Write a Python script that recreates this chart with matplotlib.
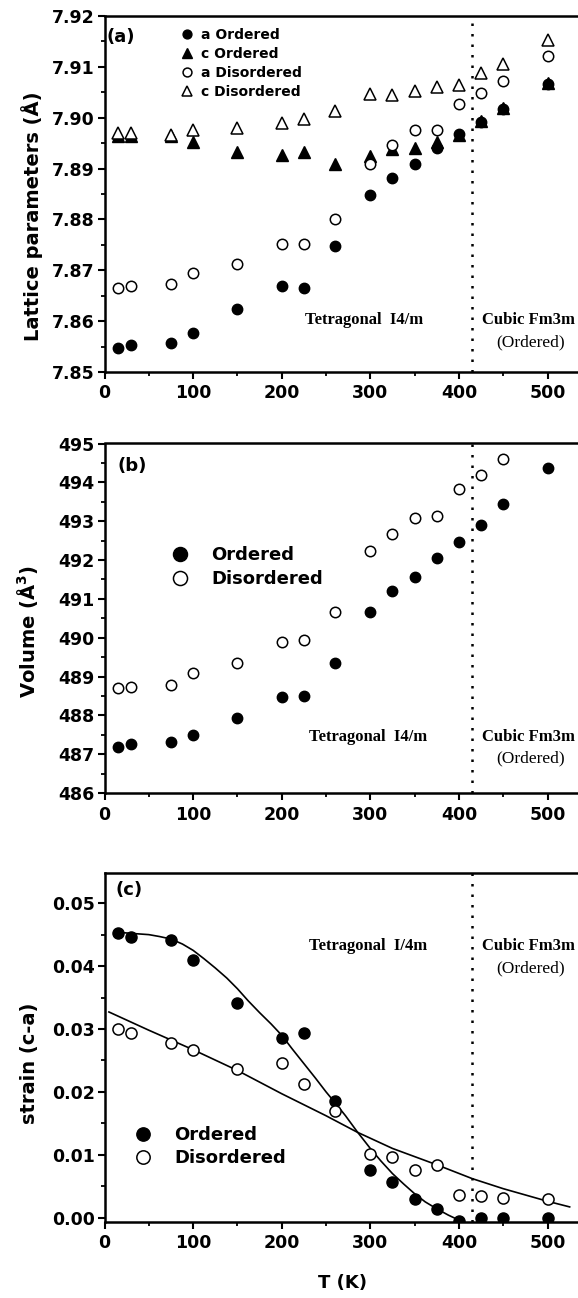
import matplotlib
matplotlib.use('Agg')
import matplotlib.pyplot as plt
from matplotlib.ticker import MultipleLocator

# temperatures (K)
T = [15, 30, 75, 100, 150, 200, 225, 260, 300, 325, 350, 375, 400, 425, 450, 500]

# (a) lattice parameters (A)
a_ord = [7.8547, 7.8553, 7.8558, 7.8577, 7.8623, 7.8669, 7.8665, 7.8747, 7.8848, 7.8881,
         7.8909, 7.8941, 7.8967, 7.8992, 7.9018, 7.9067]
c_ord = [7.8965, 7.8965, 7.8964, 7.8952, 7.8933, 7.8926, 7.8933, 7.8909, 7.8925, 7.8938,
         7.8941, 7.8953, 7.8966, 7.8993, 7.9019, 7.9068]
a_dis = [7.8666, 7.8669, 7.8673, 7.8695, 7.8713, 7.8751, 7.8751, 7.8800, 7.8909, 7.8946,
         7.8976, 7.8976, 7.9027, 7.9049, 7.9072, 7.9122]
c_dis = [7.8969, 7.8969, 7.8966, 7.8975, 7.8979, 7.8989, 7.8997, 7.9013, 7.9047, 7.9045,
         7.9053, 7.9060, 7.9065, 7.9087, 7.9105, 7.9153]

# (b) cell volume (A^3)
V_ord = [487.19, 487.25, 487.32, 487.49, 487.93, 488.47, 488.51, 489.36, 490.67, 491.20,
         491.55, 492.04, 492.46, 492.90, 493.44, 494.37]
T_vdis = T[:15]
V_dis = [488.70, 488.74, 488.77, 489.10, 489.35, 489.90, 489.93, 490.65, 492.23, 492.66,
         493.09, 493.14, 493.84, 494.19, 494.59]

# (c) strain (c-a)
s_ord = [0.0453, 0.0447, 0.0441, 0.0410, 0.0342, 0.0285, 0.0293, 0.0186, 0.0076, 0.0057,
         0.0029, 0.0014, -0.0005, 0.0, 0.0, 0.0]
s_dis = [0.0300, 0.0293, 0.0278, 0.0266, 0.0236, 0.0246, 0.0213, 0.0170, 0.0101, 0.0097,
         0.0076, 0.0083, 0.0036, 0.0035, 0.0031, 0.0030]

# fitted curves
fitT_ord = [14, 30, 50, 62, 75, 88, 100, 112, 125, 138, 150, 162, 175, 188, 200, 212, 225,
            238, 250, 260, 272, 285, 300, 312, 325, 338, 350, 362, 375, 388, 400]
fit_ord = [0.0454, 0.0452, 0.0450, 0.0447, 0.0443, 0.0435, 0.0425, 0.0412, 0.0397, 0.0381,
           0.0364, 0.0345, 0.0326, 0.0308, 0.0290, 0.0268, 0.0245, 0.0222, 0.0200, 0.0183,
           0.0162, 0.0137, 0.0110, 0.0090, 0.0070, 0.0053, 0.0038, 0.0025, 0.0014, 0.0004,
           -0.0004]
fitT_dis = [5, 50, 100, 150, 200, 250, 285, 325, 375, 415, 450, 500, 525]
fit_dis = [0.0327, 0.0298, 0.0267, 0.0234, 0.0197, 0.0162, 0.0136, 0.0110, 0.0084, 0.0062,
           0.0046, 0.0026, 0.0017]

T_c = 415

W, H = 578, 1298
sans = 'DejaVu Sans'
serif = 'Liberation Serif'
plt.rcParams['font.family'] = sans
plt.rcParams['font.weight'] = 'bold'

fig = plt.figure(figsize=(W / 100, H / 100), dpi=100)


def add_axes(top, bottom):
    left = 104.5
    right = left + 540 * 0.886
    return fig.add_axes([left / W, 1 - bottom / H, (right - left) / W, (bottom - top) / H])


def style(ax, ymajor, yminor):
    ax.set_xlim(0, 540)
    ax.set_xticks([0, 100, 200, 300, 400, 500])
    ax.xaxis.set_minor_locator(MultipleLocator(50))
    ax.yaxis.set_major_locator(MultipleLocator(ymajor))
    ax.yaxis.set_minor_locator(MultipleLocator(yminor))
    for side in ['left', 'bottom', 'top', 'right']:
        ax.spines[side].set_linewidth(1.8)
    ax.tick_params(which='major', direction='out', length=5, width=1.5, labelsize=12.5)
    ax.tick_params(axis='y', which='major', pad=2)
    ax.tick_params(axis='x', which='major', pad=4)
    ax.tick_params(which='minor', direction='out', length=3, width=1.3)
    ax.axvline(T_c, color='black', lw=1.8, linestyle=(0, (1, 3.2)))


filled = dict(linestyle='none', color='black', mec='black')
hollow = dict(linestyle='none', mfc='white', mec='black', mew=1.1)

# ---- (a) ----
ax1 = add_axes(16, 372)
ax1.plot(T, a_ord, 'o', ms=7.5, label='a Ordered', **filled)
ax1.plot(T, c_ord, '^', ms=8, label='c Ordered', **filled)
ax1.plot(T, a_dis, 'o', ms=7.5, label='a Disordered', **hollow)
ax1.plot(T, c_dis, '^', ms=8.5, label='c Disordered', **hollow)
ax1.set_ylim(7.85, 7.92)
style(ax1, 0.01, 0.005)
ax1.yaxis.set_major_formatter(matplotlib.ticker.FormatStrFormatter('%.2f'))
ax1.legend(loc='upper left', bbox_to_anchor=(0.161, 0.967), frameon=False,
           fontsize=10, handlelength=0.8, handletextpad=0.6, labelspacing=0.36,
           borderpad=0, borderaxespad=0, markerscale=0.85)
ax1.text(0.005, 0.941, '(a)', transform=ax1.transAxes, fontsize=13, ha='left', va='center')
ax1.text(293, 7.8602, 'Tetragonal  I4/m', family=serif, fontsize=12, ha='center', va='center')
ax1.text(478, 7.8602, 'Cubic Fm3m', family=serif, fontsize=12, ha='center', va='center')
ax1.text(481, 7.8559, '(Ordered)', family=serif, fontweight='normal', fontsize=12.5,
         ha='center', va='center')

# ---- (b) ----
ax2 = add_axes(443.5, 793)
ax2.plot(T, V_ord, 'o', ms=7.5, label='Ordered', **filled)
ax2.plot(T_vdis, V_dis, 'o', ms=7.5, label='Disordered', **hollow)
ax2.set_ylim(486, 495)
style(ax2, 1, 0.5)
ax2.legend(loc='upper left', bbox_to_anchor=(0.138, 0.707), frameon=False,
           fontsize=13, handlelength=1.0, handletextpad=1.25, labelspacing=0.35,
           borderpad=0, borderaxespad=0, markerscale=1.35)
ax2.text(0.028, 0.936, '(b)', transform=ax2.transAxes, fontsize=13, ha='left', va='center')
ax2.text(297, 487.44, 'Tetragonal  I4/m', family=serif, fontsize=12, ha='center', va='center')
ax2.text(478, 487.44, 'Cubic Fm3m', family=serif, fontsize=12, ha='center', va='center')
ax2.text(481, 486.9, '(Ordered)', family=serif, fontweight='normal', fontsize=12.5,
         ha='center', va='center')

# ---- (c) ----
ax3 = add_axes(873, 1222)
ax3.plot(fitT_ord, fit_ord, color='black', lw=1.2)
ax3.plot(fitT_dis, fit_dis, color='black', lw=1.2)
ax3.plot(T, s_ord, 'o', ms=8, label='Ordered', **filled)
ax3.plot(T, s_dis, 'o', ms=8, label='Disordered', **hollow)
ax3.set_ylim(-0.0007, 0.0548)
style(ax3, 0.01, 0.005)
ax3.yaxis.set_major_formatter(matplotlib.ticker.FormatStrFormatter('%.2f'))
ax3.legend(loc='upper left', bbox_to_anchor=(0.061, 0.275), frameon=False,
           fontsize=13, handlelength=1.0, handletextpad=1.25, labelspacing=0.3,
           borderpad=0, borderaxespad=0, markerscale=1.2)
ax3.text(0.024, 0.951, '(c)', transform=ax3.transAxes, fontsize=13, ha='left', va='center')
ax3.text(297, 0.0432, 'Tetragonal  I/4m', family=serif, fontsize=12, ha='center', va='center')
ax3.text(478, 0.0432, 'Cubic Fm3m', family=serif, fontsize=12, ha='center', va='center')
ax3.text(481, 0.0397, '(Ordered)', family=serif, fontweight='normal', fontsize=12.5,
         ha='center', va='center')

# axis labels
fig.text(32 / W, 1 - 216 / H, 'Lattice parameters (Å)', rotation=90, fontsize=14,
         ha='center', va='center')
fig.text(28 / W, 1 - 632 / H, 'Volume (Å$^3$)', rotation=90, fontsize=14,
         ha='center', va='center')
fig.text(30 / W, 1 - 1063 / H, 'strain (c-a)', rotation=90, fontsize=14,
         ha='center', va='center')
fig.text(343 / W, 1 - 1283 / H, 'T (K)', fontsize=13, ha='center', va='center')

fig.savefig('out.png', dpi=100)
